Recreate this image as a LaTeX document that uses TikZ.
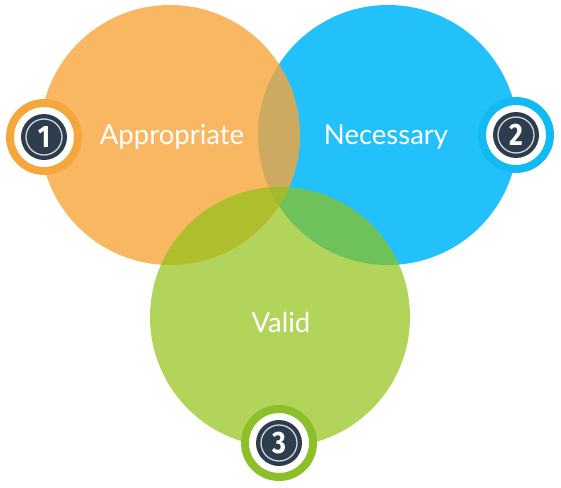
\documentclass[tikz,border=0pt]{standalone}
\usepackage{fontspec}
\usepackage{tikz}
\newfontfamily\labelfont{Lato}
\newfontfamily\numfont[FakeStretch=0.86]{Fira Sans}
\definecolor{appOrange}{HTML}{F7A53A}
\definecolor{necBlue}{HTML}{22C1FB}
\definecolor{valGreen}{HTML}{91C216}
\definecolor{ringOrange}{HTML}{F5A73D}
\definecolor{ringBlue}{HTML}{12BAF3}
\definecolor{ringGreen}{HTML}{8CC02A}
\definecolor{badgeDark}{HTML}{2E3D4D}

\begin{document}
\begin{tikzpicture}[
    x=1pt, y=-1pt,
    venn/.style={circle, minimum size=260pt, inner sep=0pt},
    vennlabel/.style={text=white, font=\labelfont\fontsize{27.5}{30}\selectfont},
    badge/.style={circle, minimum size=68pt, inner sep=0pt, draw=#1, line width=8pt, fill=white, text=white, font=\numfont\bfseries\fontsize{31}{34}\selectfont,
        path picture={\fill[badgeDark] (path picture bounding box.center) circle (23pt);
                      \draw[white!78!badgeDark, line width=1.3pt] (path picture bounding box.center) circle (18pt);}}
]
\useasboundingbox (0,0) rectangle (561,487);
% Circles
\node[venn, fill=necBlue] (nec) at (388,135) {};
\node[venn, fill=appOrange, fill opacity=0.8] (app) at (170,135) {};
\node[venn, fill=valGreen, fill opacity=0.7] (val) at (280,317) {};
% Labels
\node[vennlabel] (appText) at (172,137) {Appropriate};
\node[vennlabel] (necText) at (386,137) {Necessary};
\node[vennlabel] (valText) at (281,322) {Valid};
% Badges
\node[badge=ringOrange] (one) at (44,137) {1};
\node[badge=ringBlue] (two) at (516,135) {2};
\node[badge=ringGreen] (three) at (279,443) {3};
\end{tikzpicture}
\end{document}
